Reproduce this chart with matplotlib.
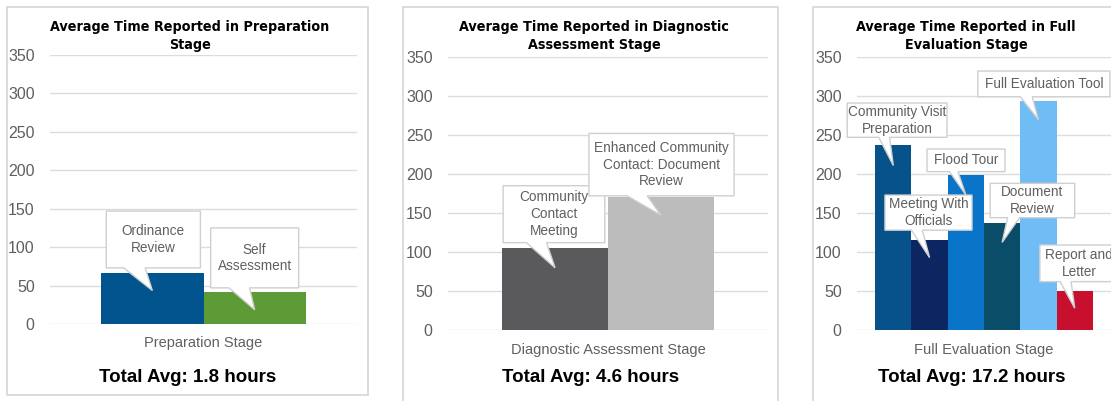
import matplotlib
matplotlib.use("Agg")
import matplotlib.pyplot as plt
from matplotlib import font_manager
from matplotlib.patches import Rectangle, Polygon

W, H = 1111, 401

# minutes reported per task
prep_tasks = ["Ordinance\nReview", "Self\nAssessment"]
prep_minutes = [67, 41]
prep_colors = ["#02548f", "#5d9b36"]

diag_tasks = ["Community\nContact\nMeeting", "Enhanced Community\nContact: Document\nReview"]
diag_minutes = [105, 171]
diag_colors = ["#5a5a5c", "#bcbcbc"]

full_tasks = ["Community Visit\nPreparation", "Meeting With\nOfficials", "Flood Tour",
              "Document\nReview", "Full Evaluation Tool", "Report and\nLetter"]
full_minutes = [237, 116, 199, 137, 293, 50]
full_colors = ["#07528a", "#0b2660", "#0a74c9", "#0a4d69", "#6fbdf4", "#c8102e"]

titles = ["Average Time Reported in Preparation\nStage",
          "Average Time Reported in Diagnostic\nAssessment Stage",
          "Average Time Reported in Full\nEvaluation Stage"]
stages = ["Preparation Stage", "Diagnostic Assessment Stage", "Full Evaluation Stage"]
totals = ["Total Avg: 1.8 hours", "Total Avg: 4.6 hours", "Total Avg: 17.2 hours"]

# callout boxes: (x0, x1, y0, y1) in data units, pointer base (bx0, bx1), tip height as fraction of bar
prep_boxes = [(-0.95, -0.03, 73, 147, -0.78, -0.57, 0.65),
              (0.07, 0.93, 47, 125, 0.25, 0.45, 0.45)]
diag_boxes = [(-0.99, -0.03, 112, 185, -0.77, -0.58, 0.76),
              (-0.18, 1.19, 172, 252, 0.18, 0.37, 0.86)]
full_boxes = [(-3.77, -1.02, 247, 291, -2.9, -2.6, 0.89),
              (-2.73, -0.33, 128, 173, -2.0, -1.7, 0.80),
              (-1.57, 0.58, 203, 232, -0.95, -0.72, 0.87),
              (0.17, 2.5, 144, 188, 0.65, 0.98, 0.82),
              (-0.17, 3.47, 299, 332, 1.0, 1.33, 0.92),
              (1.54, 3.7, 62, 109, 2.1, 2.4, 0.56)]

fig = plt.figure(figsize=(W / 100, H / 100), dpi=100)
fig.patch.set_facecolor("white")

text_font = ["Liberation Sans", "DejaVu Sans"]

# titles use a narrow bold face if one is installed
title_prop = None
for f in font_manager.fontManager.ttflist:
    narrow = ("Narrow" in f.name or "Condensed" in f.name
              or f.stretch in ("condensed", "semi-condensed", 75, 87.5))
    if narrow and f.weight in ("bold", 700, "semibold", 600):
        title_prop = font_manager.FontProperties(fname=f.fname, size=10.3)
        break
if title_prop is None:
    title_prop = font_manager.FontProperties(family="Liberation Sans", weight="bold", size=9.8)


def px_axes(left, right, top, bottom):
    return fig.add_axes([left / W, 1 - bottom / H, (right - left) / W, (bottom - top) / H])


def frame(left, right, top, bottom):
    fig.patches.append(Rectangle((left / W, 1 - bottom / H), (right - left) / W, (bottom - top) / H,
                                 transform=fig.transFigure, facecolor="none",
                                 edgecolor="#d6d6d6", linewidth=1.2, zorder=0))


def callout(ax, label, bar_x, value, box):
    x0, x1, y0, y1, bx0, bx1, frac = box
    tip = (bar_x, value * frac)
    verts = [(x0, y0), (bx0, y0), tip, (bx1, y0), (x1, y0), (x1, y1), (x0, y1)]
    ax.add_patch(Polygon(verts, closed=True, facecolor="white", edgecolor="#cfcfcf",
                         linewidth=1.0, zorder=5, clip_on=False))
    ax.text((x0 + x1) / 2, (y0 + y1) / 2, label, ha="center", va="center", color="#606060",
            fontsize=9.8, family=text_font, linespacing=1.25, zorder=6, clip_on=False)


def panel(ax, tasks, minutes, colors, boxes, half):
    n = len(minutes)
    xs = [i - (n - 1) / 2 for i in range(n)]
    ax.bar(xs, minutes, width=1.0, color=colors, zorder=3)
    ax.set_xlim(-half, half)
    ax.set_ylim(0, 350)
    ax.set_yticks(range(0, 351, 50))
    ax.set_xticks([])
    ax.grid(axis="y", color="#dcdcdc", linewidth=1.0, zorder=0)
    ax.tick_params(axis="y", length=0, pad=11, labelsize=11.5, labelcolor="#5f5f5f")
    for lab in ax.get_yticklabels():
        lab.set_family(text_font)
    for s in ax.spines.values():
        s.set_visible(False)
    ax.set_facecolor("none")
    for label, x, v, box in zip(tasks, xs, minutes, boxes):
        callout(ax, label, x, v, box)


# panel frames
frame(7, 368, 7, 395)
frame(403, 778, 7, 410)
frame(813, 1125, 7, 410)

ax1 = px_axes(50, 357, 55, 324)
panel(ax1, prep_tasks, prep_minutes, prep_colors, prep_boxes, 1.5)
ax2 = px_axes(448, 768, 57, 330)
panel(ax2, diag_tasks, diag_minutes, diag_colors, diag_boxes, 1.51)
ax3 = px_axes(857, 1111, 57, 330)
panel(ax3, full_tasks, full_minutes, full_colors, full_boxes, 3.5)

frame_centers = [190, 594, 966]
axis_centers = [203.5, 608, 984]
stage_y = [343, 350, 350]
for i in range(3):
    fig.text(frame_centers[i] / W, 1 - 36 / H, titles[i], ha="center", va="center",
             fontproperties=title_prop, linespacing=1.3)
    fig.text(axis_centers[i] / W, 1 - stage_y[i] / H, stages[i], ha="center", va="center",
             fontsize=10.5, color="#606060", family=text_font)
    fig.text([188, 591, 972][i] / W, 1 - 378 / H, totals[i], ha="center", va="center",
             fontsize=13.5, fontweight="bold", family=text_font)

fig.savefig("out.png", dpi=100)
